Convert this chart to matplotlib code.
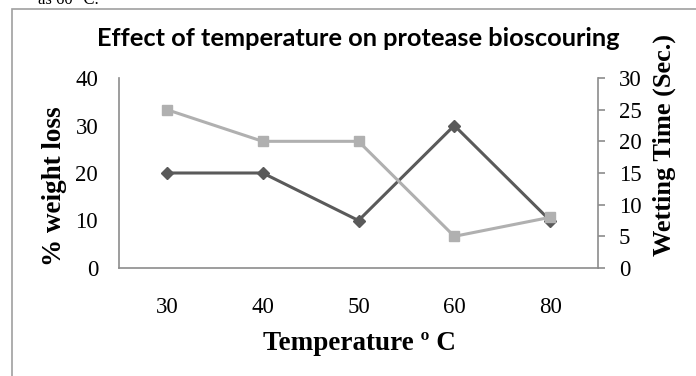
import matplotlib.pyplot as plt
from matplotlib.patches import Rectangle

# temperature trial data
temps = ['30', '40', '50', '60', '80']
weight_loss = [20, 20, 10, 30, 10]      # % weight loss (left axis)
wetting_time = [25, 20, 20, 5, 8]       # seconds (right axis)

serif = 'Liberation Serif'
axis_grey = '#8c8c8c'

fig = plt.figure(figsize=(6.96, 3.76), dpi=100)

# chart frame
fig.patches.append(Rectangle((12 / 696, -0.2), 1.2, 1.2 - 9 / 376,
                             transform=fig.transFigure, fill=False,
                             edgecolor='#a0a0a0', linewidth=1.2))
fig.text(38 / 696, 1.0, 'as 60 \u00b0C.', family=serif, fontsize=12,
         va='center', ha='left')

ax = fig.add_axes([119 / 696, 1 - 268 / 376, 479 / 696, 190 / 376])
ax2 = ax.twinx()

x = list(range(len(temps)))
ax.plot(x, weight_loss, color='#5a5a5a', linewidth=2.2, marker='D',
        markersize=6.5, zorder=3)
ax2.plot(x, wetting_time, color='#b0b0b0', linewidth=2.2, marker='s',
         markersize=7.5, zorder=2)

ax.set_xlim(-0.5, len(temps) - 0.5)
ax.set_ylim(0, 40)
ax.set_yticks(range(0, 41, 10))
ax2.set_ylim(0, 30)
ax2.set_yticks(range(0, 31, 5))
ax.set_xticks(x)
ax.set_xticklabels(temps)

for a in (ax, ax2):
    for s in a.spines.values():
        s.set_visible(False)
    a.set_facecolor('none')

ax.spines['left'].set_visible(True)
ax.spines['bottom'].set_visible(True)
ax.spines['left'].set_color(axis_grey)
ax.spines['bottom'].set_color(axis_grey)
ax.spines['left'].set_linewidth(1.2)
ax.spines['bottom'].set_linewidth(1.2)
ax2.spines['right'].set_visible(True)
ax2.spines['right'].set_color(axis_grey)
ax2.spines['right'].set_linewidth(1.2)

ax.tick_params(axis='y', length=0, pad=15, labelsize=16.5)
ax.tick_params(axis='x', length=0, pad=21, labelsize=16.5)
ax2.tick_params(axis='y', length=5, width=1.2, color=axis_grey, pad=10,
                labelsize=16.5)
for lbl in ax.get_xticklabels() + ax.get_yticklabels() + ax2.get_yticklabels():
    lbl.set_family(serif)

ax.set_xlabel('Temperature \u00ba C', family=serif, fontsize=19.5,
              fontweight='bold')
ax.xaxis.set_label_coords(0.501, -0.33)
ax.set_ylabel('% weight loss', family=serif, fontsize=19.5, fontweight='bold')
ax.yaxis.set_label_coords(-0.108, 0.43)
ax2.set_ylabel('Wetting Time (Sec.)', family=serif, fontsize=19,
               fontweight='bold')
ax2.yaxis.set_label_coords(1.113, 0.645)

fig.text(358 / 696, 1 - 39 / 376, 'Effect of temperature on protease bioscouring',
         family='Lato', fontweight='bold', fontsize=18.3, ha='center', va='center')

fig.savefig('out.png', dpi=100)
